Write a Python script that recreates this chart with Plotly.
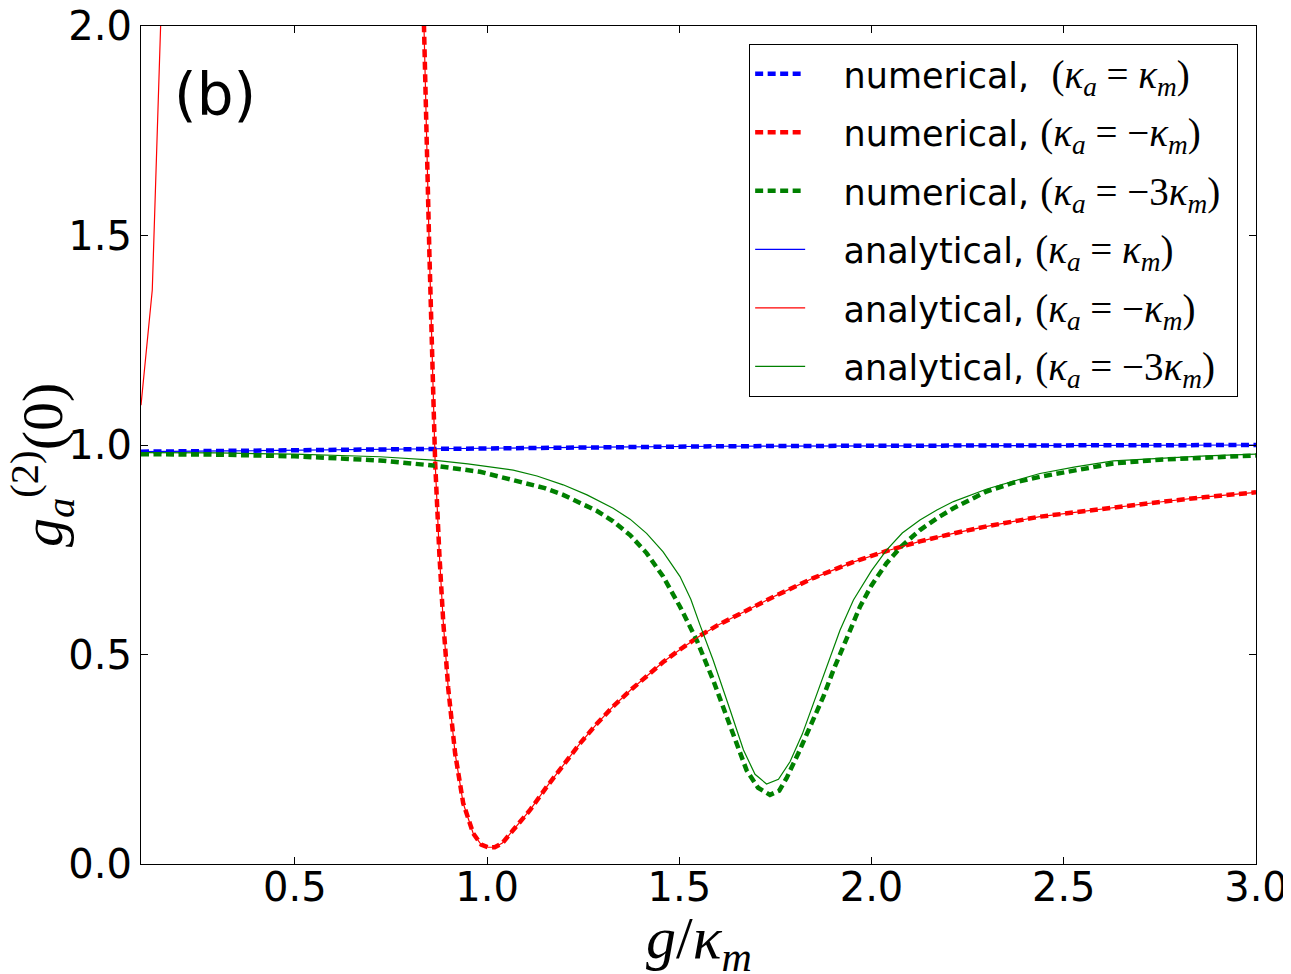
import plotly.graph_objects as go

# kappa_a = kappa_m  (numerical and analytical lie on top of each other)
blue_x = [0.1, 0.3, 0.5, 0.72, 1.0, 1.3, 1.6, 1.92, 2.3, 2.6, 3.0]
blue_y = [0.984, 0.986, 0.988, 0.990, 0.993, 0.995, 0.997, 0.998, 0.999, 0.9995, 1.0]

# kappa_a = -kappa_m
red_x = [0.80, 0.836, 0.850, 0.865, 0.876, 0.886, 0.899, 0.917, 0.938, 0.964,
         0.985, 1.003, 1.02, 1.04, 1.068, 1.112, 1.155, 1.2, 1.242, 1.285,
         1.328, 1.372, 1.415, 1.458, 1.502, 1.554, 1.6, 1.675, 1.75, 1.85,
         1.95, 2.039, 2.126, 2.213, 2.3, 2.438, 2.55, 2.629, 2.75, 2.87, 3.0]
red_y = [2.60, 2.00, 1.46, 0.96, 0.74, 0.58, 0.42, 0.264, 0.145, 0.073,
         0.046, 0.040, 0.040, 0.050, 0.081, 0.129, 0.184, 0.238, 0.288, 0.334,
         0.376, 0.414, 0.449, 0.482, 0.512, 0.545, 0.570, 0.605, 0.640, 0.683,
         0.720, 0.747, 0.770, 0.789, 0.806, 0.829, 0.842, 0.851, 0.864, 0.876, 0.887]
# analytical branch at small g (goes off the top of the plot)
red_left_x = [0.1, 0.1293, 0.1586]
red_left_y = [1.095, 1.37, 2.22]

# kappa_a = -3 kappa_m
green_num_x = [0.1, 0.3, 0.5, 0.722, 0.86, 0.982, 1.086, 1.15, 1.198, 1.24,
               1.285, 1.328, 1.372, 1.415, 1.458, 1.502, 1.545, 1.588, 1.632, 1.675,
               1.705, 1.736, 1.76, 1.779, 1.81, 1.849, 1.875, 1.901, 1.935, 1.970,
               2.0, 2.039, 2.08, 2.126, 2.17, 2.213, 2.299, 2.369, 2.438, 2.53,
               2.629, 2.75, 2.87, 3.0]
green_num_y = [0.978, 0.977, 0.973, 0.963, 0.951, 0.936, 0.912, 0.897, 0.881, 0.864,
               0.843, 0.818, 0.785, 0.742, 0.686, 0.614, 0.535, 0.439, 0.328, 0.224,
               0.182, 0.165, 0.175, 0.205, 0.265, 0.344, 0.40, 0.463, 0.54, 0.614,
               0.665, 0.718, 0.76, 0.797, 0.825, 0.849, 0.889, 0.910, 0.924, 0.940,
               0.956, 0.965, 0.971, 0.975]
green_ana_x = [0.1, 0.3, 0.5, 0.722, 0.86, 0.95, 1.068, 1.13, 1.198, 1.26,
               1.328, 1.372, 1.415, 1.458, 1.502, 1.53, 1.554, 1.588, 1.632, 1.667,
               1.697, 1.727, 1.758, 1.788, 1.82, 1.849, 1.885, 1.918, 1.953, 2.0,
               2.039, 2.08, 2.126, 2.17, 2.213, 2.3, 2.438, 2.53, 2.629, 2.75,
               2.87, 3.0]
green_ana_y = [0.982, 0.981, 0.978, 0.972, 0.964, 0.955, 0.940, 0.926, 0.905, 0.881,
               0.849, 0.823, 0.789, 0.745, 0.686, 0.632, 0.570, 0.487, 0.368, 0.272,
               0.214, 0.191, 0.202, 0.244, 0.31, 0.383, 0.47, 0.558, 0.630, 0.70,
               0.749, 0.79, 0.821, 0.845, 0.865, 0.895, 0.932, 0.948, 0.962, 0.968,
               0.974, 0.978]

x_ticks = [0.5, 1.0, 1.5, 2.0, 2.5, 3.0]
y_ticks = [0.0, 0.5, 1.0, 1.5, 2.0]

SERIF = "Liberation Serif"
SP = "\u00a0"


def m(s):
    # math-ish text in an italic serif face, a bit larger than the words
    return '<span style="font-family:%s;font-size:39px">%s</span>' % (SERIF, s)


k_a = "<i>κ</i><sub><i>a</i></sub>"
k_m = "<i>κ</i><sub><i>m</i></sub>"
names = [
    SP * 3 + "numerical," + SP * 2 + m("(" + k_a + " = " + k_m + ")"),
    SP * 3 + "numerical, " + m("(" + k_a + " = −" + k_m + ")"),
    SP * 3 + "numerical, " + m("(" + k_a + " = −3" + k_m + ")") + SP,
    SP * 3 + "analytical, " + m("(" + k_a + " = " + k_m + ")"),
    SP * 3 + "analytical, " + m("(" + k_a + " = −" + k_m + ")"),
    SP * 3 + "analytical, " + m("(" + k_a + " = −3" + k_m + ")"),
]

BLUE, RED, GREEN = "#0000ff", "#ff0000", "#008000"
dash = "8px,4.5px"

fig = go.Figure()
fig.add_trace(go.Scatter(x=blue_x, y=blue_y, mode="lines", name=names[0], legendgroup="1",
                         line=dict(color=BLUE, width=4.5, dash=dash)))
fig.add_trace(go.Scatter(x=red_x, y=red_y, mode="lines", name=names[1], legendgroup="2",
                         line=dict(color=RED, width=4.5, dash=dash)))
fig.add_trace(go.Scatter(x=green_num_x, y=green_num_y, mode="lines", name=names[2], legendgroup="3",
                         line=dict(color=GREEN, width=4.5, dash=dash)))
fig.add_trace(go.Scatter(x=blue_x, y=blue_y, mode="lines", name=names[3], legendgroup="4",
                         line=dict(color=BLUE, width=1.2)))
fig.add_trace(go.Scatter(x=red_left_x + [None] + red_x, y=red_left_y + [None] + red_y,
                         mode="lines", name=names[4], legendgroup="5", connectgaps=False,
                         line=dict(color=RED, width=1.2)))
fig.add_trace(go.Scatter(x=green_ana_x, y=green_ana_y, mode="lines", name=names[5], legendgroup="6",
                         line=dict(color=GREEN, width=1.2)))

fig.add_annotation(x=0.066, y=0.918, xref="paper", yref="paper", text="(b)",
                   xanchor="center", yanchor="middle",
                   showarrow=False, font=dict(family="DejaVu Sans", size=58, color="black"))

# axis titles as annotations so they can be placed like the original
fig.add_annotation(x=0.5, y=-0.094, xref="paper", yref="paper",
                   text="<i>g</i>/<i>κ</i><sub><i>m</i></sub>",
                   xanchor="center", yanchor="middle", showarrow=False,
                   font=dict(family=SERIF, size=60, color="black"))
fig.add_annotation(x=-0.088, y=0.476, xref="paper", yref="paper",
                   text="<i>g</i><sub><i>a</i></sub><sup>(2)</sup>(0)", textangle=-90,
                   xanchor="center", yanchor="middle", showarrow=False,
                   font=dict(family=SERIF, size=58, color="black"))

axis_common = dict(showline=True, linecolor="black", linewidth=1.2, mirror="allticks",
                   ticks="inside", ticklen=7, tickcolor="black", tickwidth=1,
                   showgrid=False, zeroline=False, tickformat=".1f", automargin=False,
                   ticklabeloverflow="allow",
                   tickfont=dict(family="DejaVu Sans", size=40, color="black"))

fig.update_xaxes(range=[0.1, 3.0], tickvals=x_ticks, ticklabelstandoff=-12, **axis_common)
fig.update_yaxes(range=[0.0, 2.0], tickvals=y_ticks, **axis_common)

# the page adds an 8 px body margin, so the figure is made that much smaller
fig.update_layout(
    width=1283, height=966,
    margin=dict(l=133, r=35, t=18, b=110),
    paper_bgcolor="white", plot_bgcolor="white",
    font=dict(family="DejaVu Sans", color="black"),
    legend=dict(x=0.984, y=0.979, xanchor="right", yanchor="top",
                bgcolor="white", bordercolor="black", borderwidth=1,
                font=dict(family="DejaVu Sans", size=35, color="black"),
                tracegroupgap=10, itemwidth=50),
)

fig.write_html("out.html")
